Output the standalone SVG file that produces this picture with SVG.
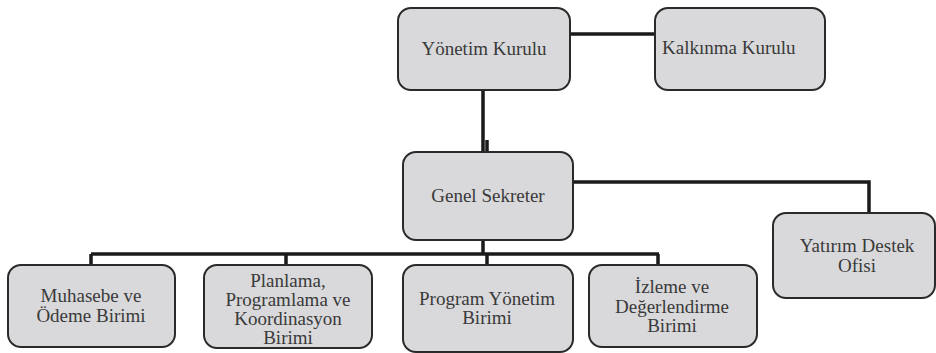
<svg xmlns="http://www.w3.org/2000/svg" width="936" height="353" viewBox="0 0 936 353">
<style>
.box{fill:#d9d9db;stroke:#2a2a2a;stroke-width:2}
.lbl{font-family:'Liberation Serif','DejaVu Serif','Times New Roman',serif;font-size:19px;fill:#3a3a3a;text-anchor:middle}
.con{fill:none;stroke:#1a1a1a;stroke-width:3.5}
</style>
<rect width="936" height="353" fill="#ffffff"/>
<g id="connectors">
<path class="con" d="M570 34 H655"/>
<path class="con" d="M483 90 V152"/>
<path class="con" d="M487 140 V152"/>
<path class="con" d="M573 182 H869 V213"/>
<path class="con" d="M483 240 V254"/>
<path class="con" d="M91 254 H659"/>
<path class="con" d="M91 254 V265"/>
<path class="con" d="M286 254 V265"/>
<path class="con" d="M487 254 V265"/>
<path class="con" d="M658 254 V265"/>
</g>
<g id="yonetim-kurulu">
<rect class="box" x="398" y="8" width="172" height="82" rx="13"/>
<text class="lbl" x="484" y="55" font-family="Liberation Serif, serif">Yönetim Kurulu</text>
</g>
<g id="kalkinma-kurulu">
<rect class="box" x="655" y="8" width="170" height="82" rx="13"/>
<text class="lbl" x="662" y="54" font-family="Liberation Serif, serif" style="text-anchor:start">Kalkınma Kurulu</text>
</g>
<g id="genel-sekreter">
<rect class="box" x="403" y="152" width="170" height="88" rx="13"/>
<text class="lbl" x="488" y="202" font-family="Liberation Serif, serif">Genel Sekreter</text>
</g>
<g id="yatirim-destek-ofisi">
<rect class="box" x="773" y="213" width="162" height="85" rx="13"/>
<text class="lbl" x="857" y="252" font-family="Liberation Serif, serif">Yatırım Destek</text>
<text class="lbl" x="857" y="272" font-family="Liberation Serif, serif">Ofisi</text>
</g>
<g id="muhasebe">
<rect class="box" x="8" y="265" width="167" height="82" rx="13"/>
<text class="lbl" x="91" y="302" font-family="Liberation Serif, serif">Muhasebe ve</text>
<text class="lbl" x="91" y="322" font-family="Liberation Serif, serif">Ödeme Birimi</text>
</g>
<g id="planlama">
<rect class="box" x="204" y="265" width="168" height="83" rx="13"/>
<text class="lbl" x="288" y="287" font-family="Liberation Serif, serif">Planlama,</text>
<text class="lbl" x="288" y="306" font-family="Liberation Serif, serif">Programlama ve</text>
<text class="lbl" x="288" y="325" font-family="Liberation Serif, serif">Koordinasyon</text>
<text class="lbl" x="288" y="344" font-family="Liberation Serif, serif">Birimi</text>
</g>
<g id="program-yonetim">
<rect class="box" x="403" y="265" width="170" height="87" rx="13"/>
<text class="lbl" x="487" y="305" font-family="Liberation Serif, serif">Program Yönetim</text>
<text class="lbl" x="487" y="324" font-family="Liberation Serif, serif">Birimi</text>
</g>
<g id="izleme">
<rect class="box" x="589" y="265" width="168" height="82" rx="13"/>
<text class="lbl" x="672" y="293" font-family="Liberation Serif, serif">İzleme ve</text>
<text class="lbl" x="672" y="313" font-family="Liberation Serif, serif">Değerlendirme</text>
<text class="lbl" x="672" y="332" font-family="Liberation Serif, serif">Birimi</text>
</g>
</svg>
